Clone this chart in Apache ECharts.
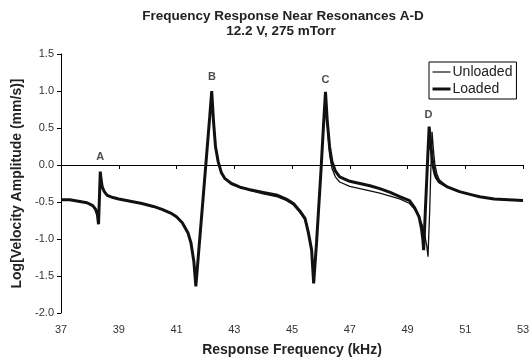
<!DOCTYPE html>
<html>
<head>
<meta charset="utf-8">
<script src="https://cdn.jsdelivr.net/npm/echarts@6/dist/echarts.min.js"></script>
<style>
html,body{margin:0;padding:0;background:#fff;}
#chart{width:529px;height:358px;}
</style>
</head>
<body>
<div id="chart"></div>
<script>
var titleText = "Frequency Response Near Resonances A-D";
var subtitleText = "12.2 V, 275 mTorr";
var xAxisName = "Response Frequency (kHz)";
var yAxisName = "Log[Velocity Amplitude (mm/s)]";

var xTicks = [37, 39, 41, 43, 45, 47, 49, 51, 53];
var yTicks = [-2.0, -1.5, -1.0, -0.5, 0.0, 0.5, 1.0, 1.5];

var loadedFreq = [37.0,37.3,37.6,37.9,38.1,38.2,38.26,38.3,38.33,38.36,38.39,38.43,38.5,38.6,38.8,39.0,39.4,39.8,40.2,40.5,40.8,41.0,41.2,41.4,41.5,41.6,41.67,41.75,41.9,42.05,42.15,42.22,42.28,42.35,42.44,42.55,42.67,42.9,43.2,43.5,44.0,44.5,44.8,45.05,45.27,45.45,45.56,45.68,45.75,45.85,46.0,46.1,46.16,46.22,46.3,46.38,46.5,46.65,47.0,47.35,47.7,48.04,48.4,48.75,49.07,49.25,49.4,49.48,49.53,49.56,49.62,49.7,49.75,49.8,49.88,49.95,50.0,50.1,50.4,50.8,51.2,51.5,52.0,52.5,53.0];
var loadedVal = [-0.47,-0.47,-0.49,-0.51,-0.55,-0.6,-0.67,-0.8,-0.45,-0.09,-0.2,-0.3,-0.36,-0.41,-0.44,-0.46,-0.49,-0.52,-0.56,-0.6,-0.65,-0.7,-0.78,-0.92,-1.05,-1.3,-1.64,-1.26,-0.55,0.17,0.65,1.0,0.6,0.25,0.05,-0.1,-0.18,-0.25,-0.3,-0.33,-0.37,-0.41,-0.46,-0.52,-0.62,-0.72,-0.9,-1.15,-1.6,-1.05,-0.1,0.6,0.99,0.6,0.25,0.05,-0.08,-0.16,-0.22,-0.25,-0.28,-0.32,-0.37,-0.43,-0.48,-0.58,-0.7,-0.85,-1.0,-1.15,-0.6,0.1,0.52,0.3,0.0,-0.12,-0.17,-0.23,-0.3,-0.36,-0.4,-0.43,-0.46,-0.47,-0.48];

var unloadedFreq = [37.0,37.3,37.6,37.9,38.1,38.2,38.26,38.3,38.33,38.36,38.39,38.43,38.5,38.6,38.8,39.0,39.4,39.8,40.2,40.5,40.8,41.0,41.2,41.4,41.5,41.6,41.67,41.75,41.9,42.05,42.15,42.22,42.28,42.35,42.44,42.55,42.67,42.9,43.2,43.5,44.0,44.5,44.8,45.05,45.27,45.45,45.56,45.68,45.75,45.85,46.0,46.1,46.16,46.22,46.3,46.38,46.5,46.65,47.0,47.35,47.7,48.04,48.4,48.75,49.07,49.25,49.4,49.5,49.6,49.67,49.71,49.77,49.82,49.85,49.9,49.95,50.02,50.1,50.4,50.8,51.2,51.5,52.0,52.5,53.0];
var unloadedVal = [-0.47,-0.47,-0.49,-0.51,-0.55,-0.6,-0.67,-0.79,-0.45,-0.1,-0.2,-0.3,-0.36,-0.41,-0.44,-0.46,-0.49,-0.52,-0.56,-0.6,-0.65,-0.7,-0.78,-0.92,-1.05,-1.3,-1.62,-1.26,-0.55,0.17,0.65,0.98,0.6,0.25,0.05,-0.1,-0.18,-0.25,-0.3,-0.34,-0.39,-0.43,-0.48,-0.54,-0.64,-0.74,-0.92,-1.17,-1.58,-1.05,-0.1,0.6,0.98,0.55,0.15,-0.04,-0.16,-0.23,-0.29,-0.32,-0.35,-0.38,-0.42,-0.46,-0.52,-0.6,-0.7,-0.8,-0.95,-1.1,-1.24,-0.6,0.1,0.45,0.2,0.0,-0.12,-0.2,-0.3,-0.36,-0.4,-0.43,-0.46,-0.47,-0.48];

var peakLabels = ["A", "B", "C", "D"];
var peakLabelFreq = [38.36, 42.23, 46.16, 49.73];
var peakLabelVal = [0.11, 1.19, 1.15, 0.67];

function pairs(xs, ys) { return xs.map(function (x, i) { return [x, ys[i]]; }); }

var chart = echarts.init(document.getElementById('chart'));
var font = 'Liberation Sans, Arial, sans-serif';
chart.setOption({
  animation: false,
  backgroundColor: '#fff',
  title: [
    { text: titleText, left: 278, top: 4, textAlign: 'center',
      textStyle: { fontFamily: font, fontSize: 13.5, fontWeight: 'bold', color: '#222' } },
    { text: subtitleText, left: 276, top: 19, textAlign: 'center',
      textStyle: { fontFamily: font, fontSize: 13.5, fontWeight: 'bold', color: '#222' } }
  ],
  legend: {
    orient: 'vertical', left: 429, top: 62, padding: [3, 4, 3, 2], itemGap: 3,
    borderColor: '#000', borderWidth: 1, backgroundColor: '#fff',
    itemWidth: 18, itemHeight: 14,
    itemStyle: { opacity: 0 },
    data: [
      { name: 'Unloaded', lineStyle: { width: 1.2, color: '#111' } },
      { name: 'Loaded', lineStyle: { width: 3, color: '#111' } }
    ],
    textStyle: { fontFamily: font, fontSize: 14, color: '#222', padding: [0, 0, 0, -3] }
  },
  grid: { left: 61, right: 6, top: 54, bottom: 45, containLabel: false, outerBoundsMode: 'none' },
  xAxis: {
    type: 'value', min: xTicks[0], max: xTicks[xTicks.length - 1], interval: 2,
    name: xAxisName, nameLocation: 'middle', nameGap: 30,
    nameTextStyle: { fontFamily: font, fontSize: 14, fontWeight: 'bold', color: '#222' },
    axisLine: { lineStyle: { color: '#000', width: 1 } },
    axisTick: { show: true, length: 4, lineStyle: { color: '#000' } },
    axisLabel: { fontFamily: font, fontSize: 11, color: '#333', margin: 11 },
    splitLine: { show: false }
  },
  yAxis: {
    type: 'value', min: yTicks[0], max: yTicks[yTicks.length - 1], interval: 0.5,
    name: yAxisName, nameLocation: 'middle', nameGap: 31, nameRotate: 90,
    nameTextStyle: { fontFamily: font, fontSize: 14, fontWeight: 'bold', color: '#222' },
    axisLine: { show: true, lineStyle: { color: '#000', width: 1 } },
    axisTick: { show: true, length: 4, lineStyle: { color: '#000' } },
    axisLabel: { fontFamily: font, fontSize: 11, color: '#333', margin: 7,
      formatter: function (v) { return v.toFixed(1); } },
    splitLine: { show: false }
  },
  series: [
    { name: 'Unloaded', type: 'line', data: pairs(unloadedFreq, unloadedVal),
      symbol: 'none', smooth: false,
      lineStyle: { color: '#111', width: 1.3 }, itemStyle: { color: '#111' } },
    { name: 'Loaded', type: 'line', data: pairs(loadedFreq, loadedVal),
      symbol: 'none', smooth: false,
      lineStyle: { color: '#111', width: 3 }, itemStyle: { color: '#111' } },
    { name: 'labels', type: 'scatter', symbolSize: 0, silent: true,
      data: pairs(peakLabelFreq, peakLabelVal).map(function (p, i) {
        return { value: p, label: { show: true, position: 'inside', formatter: peakLabels[i] } };
      }),
      label: { fontFamily: font, fontSize: 11, fontWeight: 'bold', color: '#222' } }
  ]
});
</script>
</body>
</html>
